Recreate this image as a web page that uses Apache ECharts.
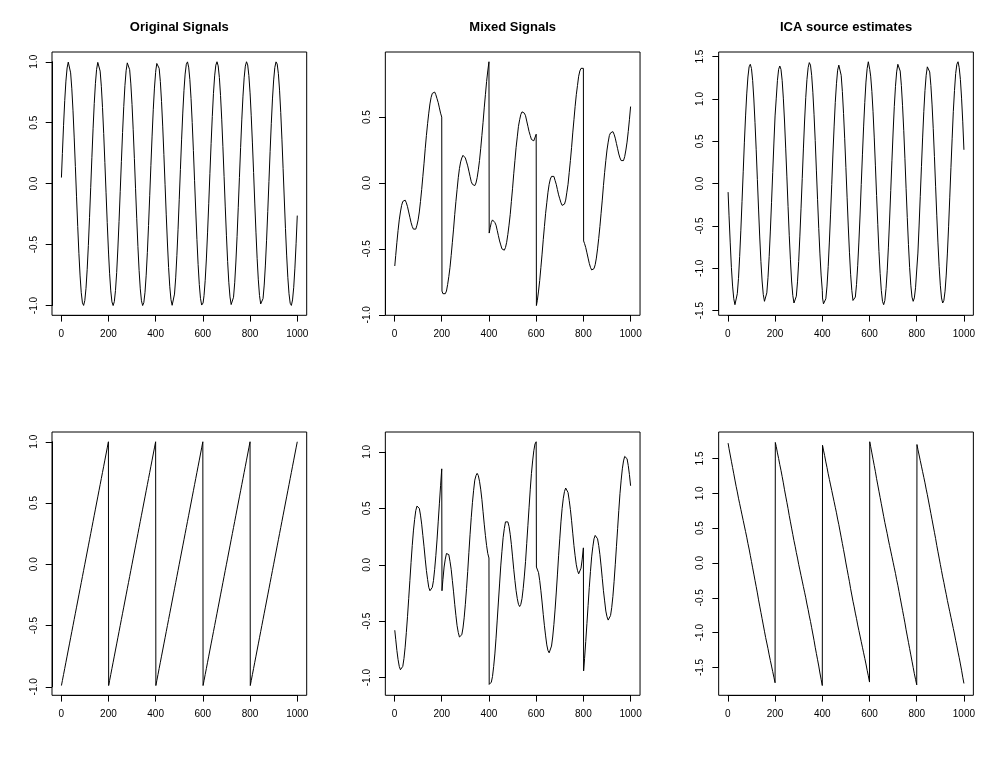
<!DOCTYPE html>
<html>
<head>
<meta charset="utf-8">
<script src="https://cdn.jsdelivr.net/npm/echarts@6/dist/echarts.min.js"></script>
<style>
html,body{margin:0;padding:0;background:#fff;}
#chart{width:1000px;height:760px;}
</style>
</head>
<body>
<div id="chart"></div>
<script>
// sample index (x)
const xIdx = [
1,5,10,15,20,25,30,35,40,45,50,55,60,65,70,75,80,85,90,95,100,105,110,115,120,125,130,135,140,145,150,155,160,165,170,175,180,185,190,195,200,
201,205,210,215,220,225,230,235,240,245,250,255,260,265,270,275,280,285,290,295,300,305,310,315,320,325,330,335,340,345,350,355,360,365,370,375,380,385,390,395,400,
401,405,410,415,420,425,430,435,440,445,450,455,460,465,470,475,480,485,490,495,500,505,510,515,520,525,530,535,540,545,550,555,560,565,570,575,580,585,590,595,600,
601,605,610,615,620,625,630,635,640,645,650,655,660,665,670,675,680,685,690,695,700,705,710,715,720,725,730,735,740,745,750,755,760,765,770,775,780,785,790,795,800,
801,805,810,815,820,825,830,835,840,845,850,855,860,865,870,875,880,885,890,895,900,905,910,915,920,925,930,935,940,945,950,955,960,965,970,975,980,985,990,995,1000
];
// original signal 1 (sine)
const origSine = [
0.050,0.247,0.479,0.682,0.841,0.949,0.997,0.984,0.909,0.778,0.598,0.382,0.141,-0.108,-0.351,-0.572,-0.757,-0.895,-0.978,-0.999,-0.959,-0.859,-0.706,-0.508,-0.279,-0.033,0.215,0.450,0.657,0.823,0.938,0.995,0.989,0.923,0.799,0.625,0.412,0.174,-0.075,-0.320,-0.544,
-0.585,-0.735,-0.880,-0.970,-1.000,-0.968,-0.876,-0.729,-0.536,-0.311,-0.066,0.183,0.420,0.632,0.804,0.926,0.991,0.994,0.935,0.818,0.650,0.442,0.207,-0.042,-0.288,-0.516,-0.712,-0.863,-0.961,-1.000,-0.976,-0.891,-0.751,-0.564,-0.343,-0.099,0.150,0.390,0.606,0.784,0.913,
0.932,0.986,0.997,0.946,0.837,0.675,0.472,0.239,-0.009,-0.256,-0.487,-0.688,-0.846,-0.952,-0.998,-0.982,-0.906,-0.773,-0.591,-0.374,-0.132,0.117,0.359,0.579,0.763,0.899,0.979,0.999,0.956,0.854,0.699,0.501,0.271,0.024,-0.224,-0.458,-0.664,-0.828,-0.941,-0.996,-0.988,
-0.979,-0.919,-0.793,-0.618,-0.404,-0.165,0.084,0.328,0.551,0.741,0.884,0.972,1.000,0.966,0.871,0.723,0.529,0.303,0.058,-0.191,-0.428,-0.639,-0.809,-0.929,-0.992,-0.993,-0.932,-0.813,-0.643,-0.434,-0.198,0.051,0.296,0.523,0.718,0.868,0.964,1.000,0.974,0.887,0.745,
0.711,0.557,0.334,0.091,-0.159,-0.398,-0.613,-0.789,-0.917,-0.987,-0.996,-0.943,-0.832,-0.668,-0.464,-0.230,0.018,0.265,0.495,0.695,0.851,0.954,0.999,0.981,0.902,0.767,0.584,0.365,0.124,-0.126,-0.367,-0.586,-0.768,-0.903,-0.981,-0.999,-0.954,-0.850,-0.693,-0.493,-0.262
];
// original signal 2 (sawtooth)
const origSaw = [
-0.99,-0.95,-0.90,-0.85,-0.80,-0.75,-0.70,-0.65,-0.60,-0.55,-0.50,-0.45,-0.40,-0.35,-0.30,-0.25,-0.20,-0.15,-0.10,-0.05,0.00,0.05,0.10,0.15,0.20,0.25,0.30,0.35,0.40,0.45,0.50,0.55,0.60,0.65,0.70,0.75,0.80,0.85,0.90,0.95,1.00,
-0.99,-0.95,-0.90,-0.85,-0.80,-0.75,-0.70,-0.65,-0.60,-0.55,-0.50,-0.45,-0.40,-0.35,-0.30,-0.25,-0.20,-0.15,-0.10,-0.05,0.00,0.05,0.10,0.15,0.20,0.25,0.30,0.35,0.40,0.45,0.50,0.55,0.60,0.65,0.70,0.75,0.80,0.85,0.90,0.95,1.00,
-0.99,-0.95,-0.90,-0.85,-0.80,-0.75,-0.70,-0.65,-0.60,-0.55,-0.50,-0.45,-0.40,-0.35,-0.30,-0.25,-0.20,-0.15,-0.10,-0.05,0.00,0.05,0.10,0.15,0.20,0.25,0.30,0.35,0.40,0.45,0.50,0.55,0.60,0.65,0.70,0.75,0.80,0.85,0.90,0.95,1.00,
-0.99,-0.95,-0.90,-0.85,-0.80,-0.75,-0.70,-0.65,-0.60,-0.55,-0.50,-0.45,-0.40,-0.35,-0.30,-0.25,-0.20,-0.15,-0.10,-0.05,0.00,0.05,0.10,0.15,0.20,0.25,0.30,0.35,0.40,0.45,0.50,0.55,0.60,0.65,0.70,0.75,0.80,0.85,0.90,0.95,1.00,
-0.99,-0.95,-0.90,-0.85,-0.80,-0.75,-0.70,-0.65,-0.60,-0.55,-0.50,-0.45,-0.40,-0.35,-0.30,-0.25,-0.20,-0.15,-0.10,-0.05,0.00,0.05,0.10,0.15,0.20,0.25,0.30,0.35,0.40,0.45,0.50,0.55,0.60,0.65,0.70,0.75,0.80,0.85,0.90,0.95,1.00
];
// mixed signal 1
const mixed1 = [
-0.63,-0.55,-0.45,-0.36,-0.28,-0.22,-0.17,-0.14,-0.13,-0.13,-0.15,-0.18,-0.22,-0.26,-0.30,-0.33,-0.35,-0.36,-0.35,-0.32,-0.28,-0.22,-0.14,-0.05,0.05,0.15,0.26,0.36,0.45,0.53,0.60,0.65,0.68,0.69,0.69,0.67,0.64,0.61,0.57,0.53,0.50,
-0.82,-0.84,-0.85,-0.84,-0.82,-0.77,-0.71,-0.64,-0.55,-0.45,-0.35,-0.24,-0.14,-0.05,0.04,0.11,0.16,0.19,0.21,0.21,0.19,0.16,0.13,0.09,0.05,0.01,-0.01,-0.02,-0.02,0.00,0.04,0.10,0.17,0.26,0.36,0.46,0.57,0.67,0.77,0.85,0.92,
-0.38,-0.34,-0.30,-0.28,-0.28,-0.30,-0.32,-0.36,-0.40,-0.44,-0.47,-0.50,-0.51,-0.51,-0.49,-0.45,-0.39,-0.32,-0.24,-0.14,-0.04,0.07,0.17,0.27,0.35,0.43,0.48,0.52,0.54,0.54,0.53,0.51,0.47,0.43,0.39,0.36,0.33,0.32,0.32,0.33,0.37,
-0.93,-0.89,-0.82,-0.74,-0.64,-0.54,-0.43,-0.33,-0.23,-0.15,-0.07,-0.01,0.03,0.05,0.06,0.05,0.02,-0.01,-0.05,-0.09,-0.12,-0.15,-0.17,-0.17,-0.16,-0.13,-0.07,-0.01,0.08,0.17,0.27,0.38,0.48,0.58,0.67,0.74,0.81,0.85,0.87,0.88,0.87,
-0.44,-0.46,-0.49,-0.53,-0.57,-0.61,-0.64,-0.66,-0.66,-0.65,-0.62,-0.57,-0.50,-0.42,-0.33,-0.23,-0.13,-0.02,0.08,0.17,0.25,0.31,0.36,0.38,0.39,0.39,0.37,0.34,0.30,0.26,0.22,0.19,0.17,0.16,0.17,0.20,0.25,0.31,0.39,0.48,0.58
];
// mixed signal 2
const mixed2 = [
-0.58,-0.66,-0.76,-0.84,-0.90,-0.93,-0.93,-0.90,-0.83,-0.73,-0.60,-0.46,-0.30,-0.14,0.02,0.17,0.30,0.40,0.48,0.52,0.52,0.50,0.44,0.36,0.26,0.16,0.05,-0.05,-0.13,-0.20,-0.23,-0.23,-0.20,-0.14,-0.04,0.08,0.22,0.38,0.54,0.70,0.85,
-0.23,-0.13,-0.02,0.05,0.10,0.11,0.09,0.03,-0.04,-0.14,-0.24,-0.35,-0.45,-0.54,-0.60,-0.64,-0.65,-0.62,-0.56,-0.47,-0.35,-0.21,-0.06,0.11,0.27,0.42,0.55,0.66,0.75,0.79,0.81,0.79,0.74,0.67,0.58,0.47,0.36,0.26,0.17,0.10,0.06,
-1.06,-1.07,-1.04,-0.99,-0.90,-0.79,-0.65,-0.49,-0.33,-0.17,-0.01,0.12,0.24,0.32,0.38,0.39,0.38,0.34,0.27,0.18,0.07,-0.04,-0.14,-0.23,-0.30,-0.35,-0.37,-0.35,-0.30,-0.21,-0.10,0.03,0.19,0.35,0.51,0.67,0.81,0.92,1.01,1.07,1.09,
-0.02,-0.03,-0.07,-0.14,-0.23,-0.33,-0.44,-0.54,-0.63,-0.71,-0.76,-0.78,-0.77,-0.72,-0.64,-0.53,-0.40,-0.25,-0.09,0.08,0.23,0.38,0.50,0.59,0.65,0.68,0.67,0.64,0.57,0.49,0.39,0.28,0.17,0.08,0.00,-0.05,-0.08,-0.07,-0.03,0.05,0.15,
-0.94,-0.83,-0.68,-0.52,-0.36,-0.20,-0.06,0.07,0.16,0.23,0.26,0.26,0.23,0.17,0.09,-0.01,-0.12,-0.23,-0.32,-0.41,-0.46,-0.49,-0.49,-0.45,-0.38,-0.28,-0.15,0.00,0.16,0.32,0.48,0.63,0.75,0.85,0.92,0.96,0.96,0.94,0.88,0.80,0.70
];
// ICA estimate 1
const icaEst1 = [
-0.10,-0.38,-0.70,-0.99,-1.21,-1.36,-1.43,-1.41,-1.30,-1.12,-0.86,-0.55,-0.21,0.14,0.49,0.80,1.06,1.26,1.38,1.41,1.36,1.22,1.00,0.72,0.40,0.05,-0.30,-0.63,-0.92,-1.15,-1.31,-1.39,-1.38,-1.29,-1.11,-0.86,-0.56,-0.22,0.13,0.48,0.80,
0.80,1.01,1.22,1.35,1.39,1.35,1.22,1.01,0.74,0.42,0.08,-0.27,-0.61,-0.90,-1.15,-1.32,-1.41,-1.41,-1.33,-1.16,-0.92,-0.62,-0.29,0.06,0.41,0.74,1.02,1.23,1.37,1.43,1.40,1.28,1.08,0.82,0.51,0.16,-0.19,-0.53,-0.83,-1.08,-1.26,
-1.35,-1.42,-1.44,-1.36,-1.21,-0.98,-0.69,-0.36,-0.01,0.35,0.67,0.96,1.18,1.34,1.40,1.38,1.28,1.09,0.83,0.53,0.19,-0.16,-0.50,-0.81,-1.07,-1.26,-1.38,-1.40,-1.34,-1.19,-0.97,-0.69,-0.37,-0.01,0.34,0.67,0.96,1.20,1.36,1.44,1.43,
1.35,1.27,1.09,0.85,0.55,0.21,-0.14,-0.48,-0.80,-1.06,-1.26,-1.39,-1.43,-1.38,-1.24,-1.03,-0.75,-0.43,-0.08,0.27,0.61,0.91,1.15,1.32,1.41,1.41,1.33,1.16,0.92,0.63,0.30,-0.06,-0.40,-0.72,-0.99,-1.20,-1.34,-1.39,-1.35,-1.23,-1.02,
-1.04,-0.82,-0.50,-0.15,0.20,0.54,0.85,1.10,1.28,1.38,1.39,1.32,1.16,0.93,0.65,0.32,-0.03,-0.38,-0.70,-0.98,-1.20,-1.35,-1.41,-1.38,-1.27,-1.08,-0.82,-0.51,-0.16,0.19,0.53,0.85,1.10,1.30,1.41,1.44,1.37,1.23,1.01,0.73,0.40
];
// ICA estimate 2
const icaEst2 = [
1.72,1.64,1.55,1.46,1.37,1.28,1.19,1.10,1.02,0.93,0.85,0.77,0.69,0.61,0.53,0.45,0.37,0.28,0.20,0.11,0.02,-0.07,-0.16,-0.25,-0.34,-0.43,-0.53,-0.62,-0.71,-0.80,-0.89,-0.98,-1.07,-1.15,-1.23,-1.32,-1.40,-1.48,-1.56,-1.64,-1.72,
1.73,1.67,1.58,1.50,1.41,1.33,1.24,1.15,1.05,0.96,0.87,0.78,0.68,0.59,0.50,0.41,0.32,0.24,0.15,0.07,-0.02,-0.10,-0.18,-0.26,-0.34,-0.42,-0.50,-0.59,-0.67,-0.76,-0.84,-0.93,-1.02,-1.11,-1.21,-1.30,-1.39,-1.48,-1.58,-1.67,-1.76,
1.69,1.62,1.54,1.45,1.37,1.28,1.20,1.12,1.04,0.96,0.88,0.80,0.72,0.63,0.55,0.46,0.37,0.28,0.19,0.10,0.00,-0.09,-0.18,-0.27,-0.37,-0.46,-0.55,-0.63,-0.72,-0.80,-0.89,-0.97,-1.05,-1.13,-1.21,-1.29,-1.37,-1.45,-1.54,-1.62,-1.71,
1.74,1.67,1.58,1.49,1.40,1.31,1.21,1.12,1.03,0.94,0.85,0.76,0.67,0.58,0.50,0.42,0.33,0.25,0.17,0.09,0.01,-0.07,-0.15,-0.24,-0.32,-0.41,-0.50,-0.59,-0.68,-0.77,-0.86,-0.96,-1.05,-1.14,-1.23,-1.32,-1.41,-1.50,-1.59,-1.67,-1.75,
1.70,1.63,1.55,1.47,1.39,1.31,1.23,1.15,1.06,0.98,0.89,0.80,0.71,0.62,0.53,0.44,0.35,0.25,0.16,0.07,-0.02,-0.11,-0.20,-0.28,-0.37,-0.45,-0.54,-0.62,-0.70,-0.78,-0.86,-0.94,-1.02,-1.11,-1.19,-1.28,-1.36,-1.45,-1.54,-1.64,-1.73
];
// tick labels
const xTicks = [0, 200, 400, 600, 800, 1000];
const yTicksUnit = [-1, -0.5, 0, 0.5, 1];
const yTicksMixed1 = [-1, -0.5, 0, 0.5];
const yTicksIca = [-1.5, -1, -0.5, 0, 0.5, 1, 1.5];
const titles = ['Original Signals', 'Mixed Signals', 'ICA source estimates'];

const panels = [
  {y: origSine, ticks: yTicksUnit, col: 0, row: 0},
  {y: mixed1, ticks: yTicksMixed1, col: 1, row: 0},
  {y: icaEst1, ticks: yTicksIca, col: 2, row: 0},
  {y: origSaw, ticks: yTicksUnit, col: 0, row: 1},
  {y: mixed2, ticks: yTicksUnit, col: 1, row: 1},
  {y: icaEst2, ticks: yTicksIca, col: 2, row: 1}
];

const FONT = '"Liberation Sans", Arial, Helvetica, sans-serif';
const cellW = 1000 / 3, cellH = 380;
const boxL0 = 52, boxT0 = 52, boxW = 254.7, boxH = 263.3;
const AUX = 40; // helper strips carrying ticks and labels outside the frame

function ext(arr) {
  const mn = Math.min.apply(null, arr), mx = Math.max.apply(null, arr);
  const d = (mx - mn) * 0.04;
  return [mn - d, mx + d];
}
const xr = ext(xIdx);
const xT0 = xTicks[0], xT1 = xTicks[xTicks.length - 1], xStep = xTicks[1] - xTicks[0];

const grids = [], xAxes = [], yAxes = [], series = [], graphics = [];
function hiddenAxis(g, mn, mx) { return {type: 'value', gridIndex: g, show: false, min: mn, max: mx}; }
function tickStyle() { return {show: true, inside: true, length: 6.3, lineStyle: {color: '#000', width: 1}}; }
function axLine() { return {show: true, onZero: false, lineStyle: {color: '#000', width: 1}}; }

panels.forEach((p, i) => {
  const bl = boxL0 + cellW * p.col, bt = boxT0 + cellH * p.row;
  const yr = ext(p.y);
  const t0 = p.ticks[0], t1 = p.ticks[p.ticks.length - 1], tStep = p.ticks[1] - p.ticks[0];
  const gxL = bl + (xT0 - xr[0]) / (xr[1] - xr[0]) * boxW;
  const gxW = (xT1 - xT0) / (xr[1] - xr[0]) * boxW;
  const gyT = bt + (yr[1] - t1) / (yr[1] - yr[0]) * boxH;
  const gyH = (t1 - t0) / (yr[1] - yr[0]) * boxH;

  // frame box
  let g = grids.length;
  grids.push({left: bl, top: bt, width: boxW, height: boxH, show: true,
    borderColor: '#000', borderWidth: 1, backgroundColor: 'transparent'});
  xAxes.push(hiddenAxis(g, 0, 1)); yAxes.push(hiddenAxis(g, 0, 1));

  // data grid
  g = grids.length;
  grids.push({left: gxL, top: bt, width: gxW, height: boxH, show: false});
  xAxes.push(hiddenAxis(g, xT0, xT1));
  yAxes.push(hiddenAxis(g, yr[0], yr[1]));
  series.push({
    type: 'line', xAxisIndex: g, yAxisIndex: g,
    data: xIdx.map((x, k) => [x, p.y[k]]),
    showSymbol: false, symbol: 'none', smooth: false,
    lineStyle: {color: '#000', width: 1}, silent: true, clip: false
  });

  // x axis strip below the frame
  g = grids.length;
  grids.push({left: gxL, top: bt + boxH, width: gxW, height: AUX, show: false});
  xAxes.push({
    type: 'value', gridIndex: g, min: xT0, max: xT1, interval: xStep, position: 'top',
    axisLine: axLine(), splitLine: {show: false}, axisTick: tickStyle(),
    axisLabel: {show: true, inside: true, margin: 13.5, fontSize: 10, color: '#000', fontFamily: FONT,
      showMinLabel: true, showMaxLabel: true, formatter: v => String(Math.round(v))}
  });
  yAxes.push(hiddenAxis(g, 0, 1));

  // y axis strip left of the frame
  g = grids.length;
  grids.push({left: bl - AUX, top: gyT, width: AUX, height: gyH, show: false});
  xAxes.push(hiddenAxis(g, 0, 1));
  yAxes.push({
    type: 'value', gridIndex: g, min: t0, max: t1, interval: tStep, position: 'right',
    axisLine: axLine(), splitLine: {show: false}, axisTick: tickStyle(),
    axisLabel: {show: true, inside: true, margin: 13, fontSize: 10, color: '#000', fontFamily: FONT,
      showMinLabel: true, showMaxLabel: true, rotate: 90, formatter: v => v.toFixed(1)}
  });

  if (p.row === 0) {
    graphics.push({
      type: 'text', x: bl + boxW / 2, y: 27,
      style: {text: titles[p.col], fill: '#000', font: 'bold 13px ' + FONT,
        textAlign: 'center', textVerticalAlign: 'middle'}
    });
  }
});

const chart = echarts.init(document.getElementById('chart'), null, {renderer: 'canvas'});
chart.setOption({
  animation: false,
  backgroundColor: '#fff',
  grid: grids, xAxis: xAxes, yAxis: yAxes, series: series,
  graphic: graphics
});
</script>
</body>
</html>
